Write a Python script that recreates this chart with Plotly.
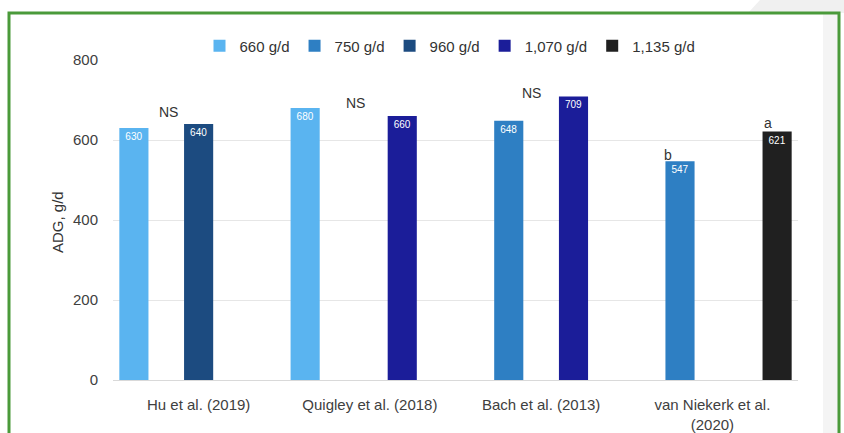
import plotly.graph_objects as go

# ---- data ----
studies = ["Hu et al. (2019)", "Quigley et al. (2018)", "Bach et al. (2013)", "van Niekerk et al.<br>(2020)"]
series_names = ["660 g/d", "750 g/d", "960 g/d", "1,070 g/d", "1,135 g/d"]
adg_660 = [630, 680, None, None]
adg_750 = [None, None, 648, 547]
adg_960 = [640, None, None, None]
adg_1070 = [None, 660, 709, None]
adg_1135 = [None, None, None, 621]
series_values = [adg_660, adg_750, adg_960, adg_1070, adg_1135]
colors = ["#5ab4f0", "#2e7fc3", "#1c4b80", "#1b1d99", "#202020"]

sig_labels = ["NS", "NS", "NS", "b", "a"]
sig_study = [0, 1, 2, 3, 3]
sig_y = [670, 693, 717, 562, 642]
sig_shift = [-30, -14, -10, -44, 56]

# ---- layout geometry (pixels) ----
W, H = 844, 433
L, R, T, B = 113, 46, 60, 53
pw, ph = W - L - R, H - T - B


def px2x(p):
    return (p - L) / pw


def px2y(p):
    return (H - B - p) / ph


fig = go.Figure()
for name, vals, col in zip(series_names, series_values, colors):
    fig.add_trace(go.Bar(
        name=name, x=studies, y=vals, marker_color=col,
        marker_line_width=0,
        text=[str(v) if v is not None else "" for v in vals],
        textposition="inside", insidetextanchor="end",
        textfont=dict(color="white", size=10, family="Liberation Sans, Arial"),
        cliponaxis=False,
    ))

annotations = []
for lab, si, yv, sh in zip(sig_labels, sig_study, sig_y, sig_shift):
    annotations.append(dict(x=studies[si], y=yv, text=lab, showarrow=False,
                            xshift=sh, font=dict(size=14, color="#333333")))
annotations.append(dict(x=px2x(57), y=px2y(222), xref="paper", yref="paper", text="ADG, g/d",
                        textangle=-90, showarrow=False, xanchor="center", yanchor="middle",
                        font=dict(size=15, color="#333333")))

shapes = [
    # light grey strip inside the right edge of the frame
    dict(type="rect", xref="paper", yref="paper", x0=px2x(823), x1=px2x(839),
         y0=px2y(480), y1=px2y(13), fillcolor="#f4f4f4", line_width=0, layer="below"),
    # grey area above frame at top right
    dict(type="path", xref="paper", yref="paper",
         path=f"M {px2x(760)},{px2y(0)} L {px2x(844)},{px2y(0)} L {px2x(844)},{px2y(13)} L {px2x(748)},{px2y(13)} Z",
         fillcolor="#f0f0f0", line_width=0, layer="below"),
    # green frame (bottom edge is off-page)
    dict(type="path", xref="paper", yref="paper",
         path=f"M {px2x(9)},{px2y(480)} L {px2x(9)},{px2y(13)} L {px2x(839)},{px2y(13)} L {px2x(839)},{px2y(480)}",
         line=dict(color="#4a9a3a", width=3), layer="above"),
]

fig.update_layout(
    width=W, height=H,
    margin=dict(l=L, r=R, t=T, b=B, autoexpand=False),
    paper_bgcolor="white", plot_bgcolor="white",
    barmode="group", bargap=0.055, bargroupgap=0.1,
    font=dict(family="Liberation Sans, Arial", color="#404040", size=14),
    showlegend=True,
    legend=dict(orientation="h", x=px2x(450), xanchor="center", y=px2y(46), yanchor="middle",
                font=dict(size=15, color="#333333"), bgcolor="rgba(0,0,0,0)",
                itemwidth=30, traceorder="normal"),
    annotations=annotations,
    shapes=shapes,
)
fig.update_yaxes(range=[0, 800], tickvals=[0, 200, 400, 600, 800], showgrid=True,
                 gridcolor="#e6e6e6", gridwidth=1, zeroline=True, zerolinecolor="#d9d9d9",
                 zerolinewidth=1, showline=False, ticks="", ticklabelstandoff=14,
                 automargin=False, tickfont=dict(size=15, color="#404040"))
fig.update_xaxes(showgrid=False, showline=False, ticks="", ticklabelstandoff=14,
                 automargin=False, tickfont=dict(size=15, color="#404040"))

fig.write_html("out.html")
